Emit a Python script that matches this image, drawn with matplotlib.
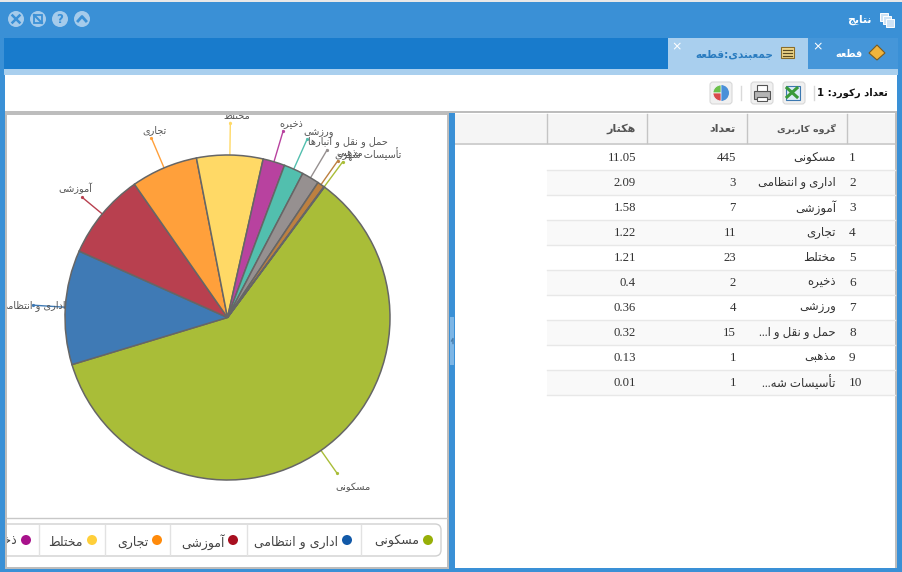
import numpy as np
import matplotlib
matplotlib.use("Agg")
import matplotlib.pyplot as plt
from matplotlib.patches import Rectangle, FancyBboxPatch, Circle, Polygon, Wedge

groups = ["مسکونی", "اداری و انتظامی", "آموزشی", "تجاری", "مختلط", "ذخیره", "ورزشی",
          "حمل و نقل و انبارها", "مذهبی", "تأسیسات شهری"]
table_names = ["مسکونی", "اداری و انتظامی", "آموزشی", "تجاری", "مختلط", "ذخیره", "ورزشی",
               "حمل و نقل و ا...", "مذهبی", "تأسیسات شه..."]
hectares = [11.05, 2.09, 1.58, 1.22, 1.21, 0.4, 0.36, 0.32, 0.13, 0.01]
counts = [445, 3, 7, 11, 23, 2, 4, 15, 1, 1]
headers = ["گروه کاربری", "تعداد", "هکتار"]

slice_colors = ["#a9bd38", "#3f7ab5", "#b8404f", "#ffa03b", "#ffd966",
                "#b8429f", "#52bfae", "#969090", "#bd8040", "#a9bd38"]
legend_colors = ["#97af08", "#1259a8", "#a80f20", "#ff8a0a", "#ffcf3a", "#a8128b"]

BLUE = "#3a90d6"
TAB_BAR = "#187bcc"
LIGHT = "#a9cfee"
GREY = "#bdbdbd"
SERIF = ["Liberation Serif", "DejaVu Sans"]

# isolated, final, initial, medial (two forms = does not join forward)
FORMS = {
    "ا": (0xFE8D, 0xFE8E), "آ": (0xFE81, 0xFE82), "أ": (0xFE83, 0xFE84),
    "د": (0xFEA9, 0xFEAA), "ذ": (0xFEAB, 0xFEAC), "ر": (0xFEAD, 0xFEAE),
    "ز": (0xFEAF, 0xFEB0), "و": (0xFEED, 0xFEEE),
    "ب": (0xFE8F, 0xFE90, 0xFE91, 0xFE92), "ت": (0xFE95, 0xFE96, 0xFE97, 0xFE98),
    "ج": (0xFE9D, 0xFE9E, 0xFE9F, 0xFEA0), "ح": (0xFEA1, 0xFEA2, 0xFEA3, 0xFEA4),
    "خ": (0xFEA5, 0xFEA6, 0xFEA7, 0xFEA8), "س": (0xFEB1, 0xFEB2, 0xFEB3, 0xFEB4),
    "ش": (0xFEB5, 0xFEB6, 0xFEB7, 0xFEB8), "ط": (0xFEC1, 0xFEC2, 0xFEC3, 0xFEC4),
    "ظ": (0xFEC5, 0xFEC6, 0xFEC7, 0xFEC8), "ع": (0xFEC9, 0xFECA, 0xFECB, 0xFECC),
    "ق": (0xFED5, 0xFED6, 0xFED7, 0xFED8), "ل": (0xFEDD, 0xFEDE, 0xFEDF, 0xFEE0),
    "م": (0xFEE1, 0xFEE2, 0xFEE3, 0xFEE4), "ن": (0xFEE5, 0xFEE6, 0xFEE7, 0xFEE8),
    "ه": (0xFEE9, 0xFEEA, 0xFEEB, 0xFEEC), "ی": (0xFBFC, 0xFBFD, 0xFBFE, 0xFBFF),
    "ک": (0xFB8E, 0xFB8F, 0xFB90, 0xFB91), "گ": (0xFB92, 0xFB93, 0xFB94, 0xFB95),
}


def fa(text):
    # matplotlib has no shaping, so pick joined forms and lay out right to left
    out = []
    for i, ch in enumerate(text):
        if ch not in FORMS:
            out.append(ch)
            continue
        prev = text[i - 1] if i > 0 else " "
        nxt = text[i + 1] if i + 1 < len(text) else " "
        joins_prev = prev in FORMS and len(FORMS[prev]) == 4
        joins_next = nxt in FORMS and len(FORMS[ch]) == 4
        if joins_prev and joins_next:
            out.append(chr(FORMS[ch][3]))
        elif joins_next:
            out.append(chr(FORMS[ch][2]))
        elif joins_prev:
            out.append(chr(FORMS[ch][1]))
        else:
            out.append(chr(FORMS[ch][0]))
    return "".join(reversed(out))


fig = plt.figure(figsize=(9.02, 5.72), dpi=100)
ui = fig.add_axes([0, 0, 1, 1])
ui.set_xlim(0, 902)
ui.set_ylim(572, 0)
ui.axis("off")


def box(x0, y0, x1, y1, color, z=1):
    ui.add_patch(Rectangle((x0, y0), x1 - x0, y1 - y0, fc=color, ec="none", zorder=z))


# window frame
box(0, 0, 902, 572, BLUE)
box(0, 0, 902, 2, "#e8e8e8")
box(4, 38, 898, 69, TAB_BAR)
box(4, 69, 898, 75, LIGHT)
box(5, 75, 897, 111, "white")
box(5, 111, 897, 115, GREY)
box(5, 111, 449, 569, GREY)
box(7, 115, 447, 567, "white")
box(449, 113, 455, 569, BLUE)
box(450, 317, 454, 365, "#7db6e6", 2)
box(455, 113, 897, 568, "white")
box(895, 113, 897, 568, GREY, 3)
ui.plot([451.5, 453, 453], [341, 338.5, 343.5], color="#4a7fae", lw=1, zorder=3)

# title bar buttons
for cx, glyph in zip([16, 38, 60, 82], ["x", "o", "?", "^"]):
    ui.add_patch(Circle((cx, 19), 8, fc="#a5cbeb", ec="none", zorder=2))
    if glyph == "x":
        ui.plot([cx - 3.5, cx + 3.5], [15.5, 22.5], color=BLUE, lw=1.8, zorder=3)
        ui.plot([cx - 3.5, cx + 3.5], [22.5, 15.5], color=BLUE, lw=1.8, zorder=3)
    elif glyph == "o":
        ui.add_patch(Rectangle((cx - 4, 15), 8, 8, fc="none", ec=BLUE, lw=1.3, zorder=3))
        ui.plot([cx - 4, cx + 4], [15, 23], color=BLUE, lw=1.5, zorder=3)
    elif glyph == "?":
        ui.text(cx, 19.5, "?", color=BLUE, fontsize=8.5, fontweight="bold",
                ha="center", va="center", zorder=3)
    else:
        ui.plot([cx - 4, cx, cx + 4], [21, 16.5, 21], color=BLUE, lw=2, zorder=3)

ui.text(871, 20, fa("نتایج"), color="white", fontsize=7.8, fontweight="bold",
        ha="right", va="center", zorder=3)
for dx in [0, 3, 6]:
    ui.add_patch(Rectangle((880 + dx, 13 + dx), 8, 8, fc="#cfe3f5", ec="white", lw=0.7, zorder=3))

# tabs
box(668, 38, 808, 69, LIGHT, 2)
box(808, 38, 898, 69, "#4596d9", 2)
ui.text(773, 54, fa("جمعبندی:قطعه"), color="#2a7cc0", fontsize=7.6, fontweight="bold",
        ha="right", va="center", zorder=3)
ui.text(863, 54, fa("قطعه"), color="white", fontsize=7, fontweight="bold",
        ha="right", va="center", zorder=3)
ui.text(677, 47, "×", color="white", fontsize=9, ha="center", va="center", zorder=3)
ui.text(818, 47, "×", color="white", fontsize=9, ha="center", va="center", zorder=3)
ui.add_patch(Polygon([(877, 45), (885, 53), (877, 60), (869, 53)], fc="#f0b43c", ec="#7a5a20", lw=0.8, zorder=3))
ui.add_patch(Rectangle((781, 47), 13, 11, fc="#f2d98c", ec="#8a6d2a", lw=0.8, zorder=3))
for gy in [50, 53, 56]:
    ui.plot([783, 792], [gy, gy], color="#5a4a20", lw=0.9, zorder=4)

# toolbar
ui.text(888, 93, fa("تعداد رکورد: 1"), color="#111111", fontsize=7.2, fontweight="bold",
        ha="right", va="center", zorder=3)
for sep_x in [814, 741]:
    ui.plot([sep_x, sep_x], [86, 100], color="#d9d9d9", lw=1, zorder=3)
for cx in [794, 762, 721]:
    ui.add_patch(FancyBboxPatch((cx - 10, 83), 20, 20, boxstyle="round,pad=1,rounding_size=3",
                                fc="#f0f0f0", ec="#d8d8d8", lw=0.8, zorder=2))
ui.add_patch(Rectangle((786, 86), 14, 14, fc="#dcebf7", ec="#3c78b0", lw=0.8, zorder=3))
ui.plot([787, 797], [88, 97], color="#3a9a3a", lw=2.2, zorder=4)
ui.plot([797, 787], [88, 97], color="#3a9a3a", lw=2.2, zorder=4)
ui.add_patch(Rectangle((754, 91), 16, 8, fc="#b5b5b5", ec="#555555", lw=0.8, zorder=3))
ui.add_patch(Rectangle((757, 85), 10, 6, fc="white", ec="#555555", lw=0.8, zorder=3))
ui.add_patch(Rectangle((757, 97), 10, 4, fc="white", ec="#555555", lw=0.8, zorder=3))
ui.add_patch(Circle((721, 93), 8, fc="#4a90d8", ec="none", zorder=3))
ui.add_patch(Wedge((721, 93), 8, 180, 270, fc="#6cc04a", ec="white", lw=0.5, zorder=4))
ui.add_patch(Wedge((721, 93), 8, 90, 180, fc="#d84a4a", ec="white", lw=0.5, zorder=4))

# grid header
box(455, 114, 895, 143, "#f5f5f5", 2)
box(455, 143, 895, 145, "#d0d0d0", 2)
for col_x in [547, 647, 747, 847]:
    ui.plot([col_x, col_x], [114, 143], color="#c4c4c4", lw=1, zorder=3)
for right_x, head, size in zip([836, 736, 636], headers, [6.8, 8, 8]):
    ui.text(right_x, 129, fa(head), color="#555555", fontsize=size, fontweight="bold",
            ha="right", va="center", zorder=4)

# grid rows
for i in range(len(groups)):
    mid = 158 + i * 25
    if i % 2 == 1:
        box(547, mid - 13, 895, mid + 12, "#f9f9f9", 2)
    ui.plot([547, 895], [mid + 12, mid + 12], color="#e8e8e8", lw=1, zorder=3)
    ui.text(849, mid, str(i + 1), color="#333333", family=SERIF, fontsize=9.5,
            ha="left", va="center", zorder=4)
    ui.text(836, mid, fa(table_names[i]), color="#333333", family=SERIF, fontsize=8.5,
            ha="right", va="center", zorder=4)
    ui.text(736, mid, str(counts[i]), color="#333333", family=SERIF, fontsize=9.2,
            ha="right", va="center", zorder=4)
    ui.text(636, mid, str(hectares[i]), color="#333333", family=SERIF, fontsize=9.2,
            ha="right", va="center", zorder=4)

# pie, placed so the unit circle lands on the reference position
PANEL = (7, 115, 447, 517)
CX, CY, R = 227.5, 317.5, 162.5
pie_ax = fig.add_axes([PANEL[0] / 902, 1 - PANEL[3] / 572,
                       (PANEL[2] - PANEL[0]) / 902, (PANEL[3] - PANEL[1]) / 572])
wedges, _ = pie_ax.pie(hectares, colors=slice_colors, startangle=53.4, counterclock=False,
                       wedgeprops={"edgecolor": "#666666", "linewidth": 1.1})
pie_ax.set_xlim((PANEL[0] - CX) / R, (PANEL[2] - CX) / R)
pie_ax.set_ylim((CY - PANEL[3]) / R, (CY - PANEL[1]) / R)
pie_ax.patch.set_alpha(0)

# text offset from the connector end, in axis units
label_offsets = [(0.10, -0.087), (0.0, 0.0), (-0.045, 0.055), (0.02, 0.05), (0.04, 0.04),
                 (0.05, 0.04), (0.07, 0.04), (0.125, 0.05), (0.075, 0.045), (0.155, 0.05)]
end_radius = [1.17, 1.2, 1.16, 1.2, 1.2, 1.2, 1.2, 1.2, 1.18, 1.19]
for w, name, off, col, er in zip(wedges, groups, label_offsets, slice_colors, end_radius):
    ang = np.deg2rad((w.theta1 + w.theta2) / 2)
    ux, uy = np.cos(ang), np.sin(ang)
    pie_ax.plot([ux, er * ux], [uy, er * uy], color=col, lw=1, zorder=0.5)
    pie_ax.plot([er * ux], [er * uy], "o", color=col, ms=1.3, zorder=0.5)
    pie_ax.text(er * ux + off[0], er * uy + off[1], fa(name), color="#555555", fontsize=7,
                ha="center", va="center", clip_on=True, zorder=6)

# legend strip, clipped at the left edge of the panel
clip_rect = Rectangle((7, 115), 440, 452, transform=ui.transData)
ui.plot([7, 447], [518, 518], color="#c8c8c8", lw=1, zorder=3)
legend_box = FancyBboxPatch((-20, 524), 461, 32, boxstyle="round,pad=0,rounding_size=6",
                            fc="white", ec="#d0d0d0", lw=1, zorder=2)
ui.add_patch(legend_box)
legend_box.set_clip_path(clip_rect)
for sep_x in [361, 247, 170, 105, 39]:
    ui.plot([sep_x, sep_x], [525, 555], color="#e2e2e2", lw=1, zorder=3)
marker_x = [428, 347, 233, 157, 92, 26]
text_right = [419, 338, 225, 148, 83, 17]
for name, col, mx, tx in zip(groups, legend_colors, marker_x, text_right):
    ui.add_patch(Circle((mx, 540), 5, fc=col, ec="none", zorder=3))
    t = ui.text(tx, 542, fa(name), color="#444444", fontsize=9, ha="right", va="center",
                zorder=3, clip_on=True)
    t.set_clip_path(clip_rect)

fig.savefig("out.png", dpi=100)
